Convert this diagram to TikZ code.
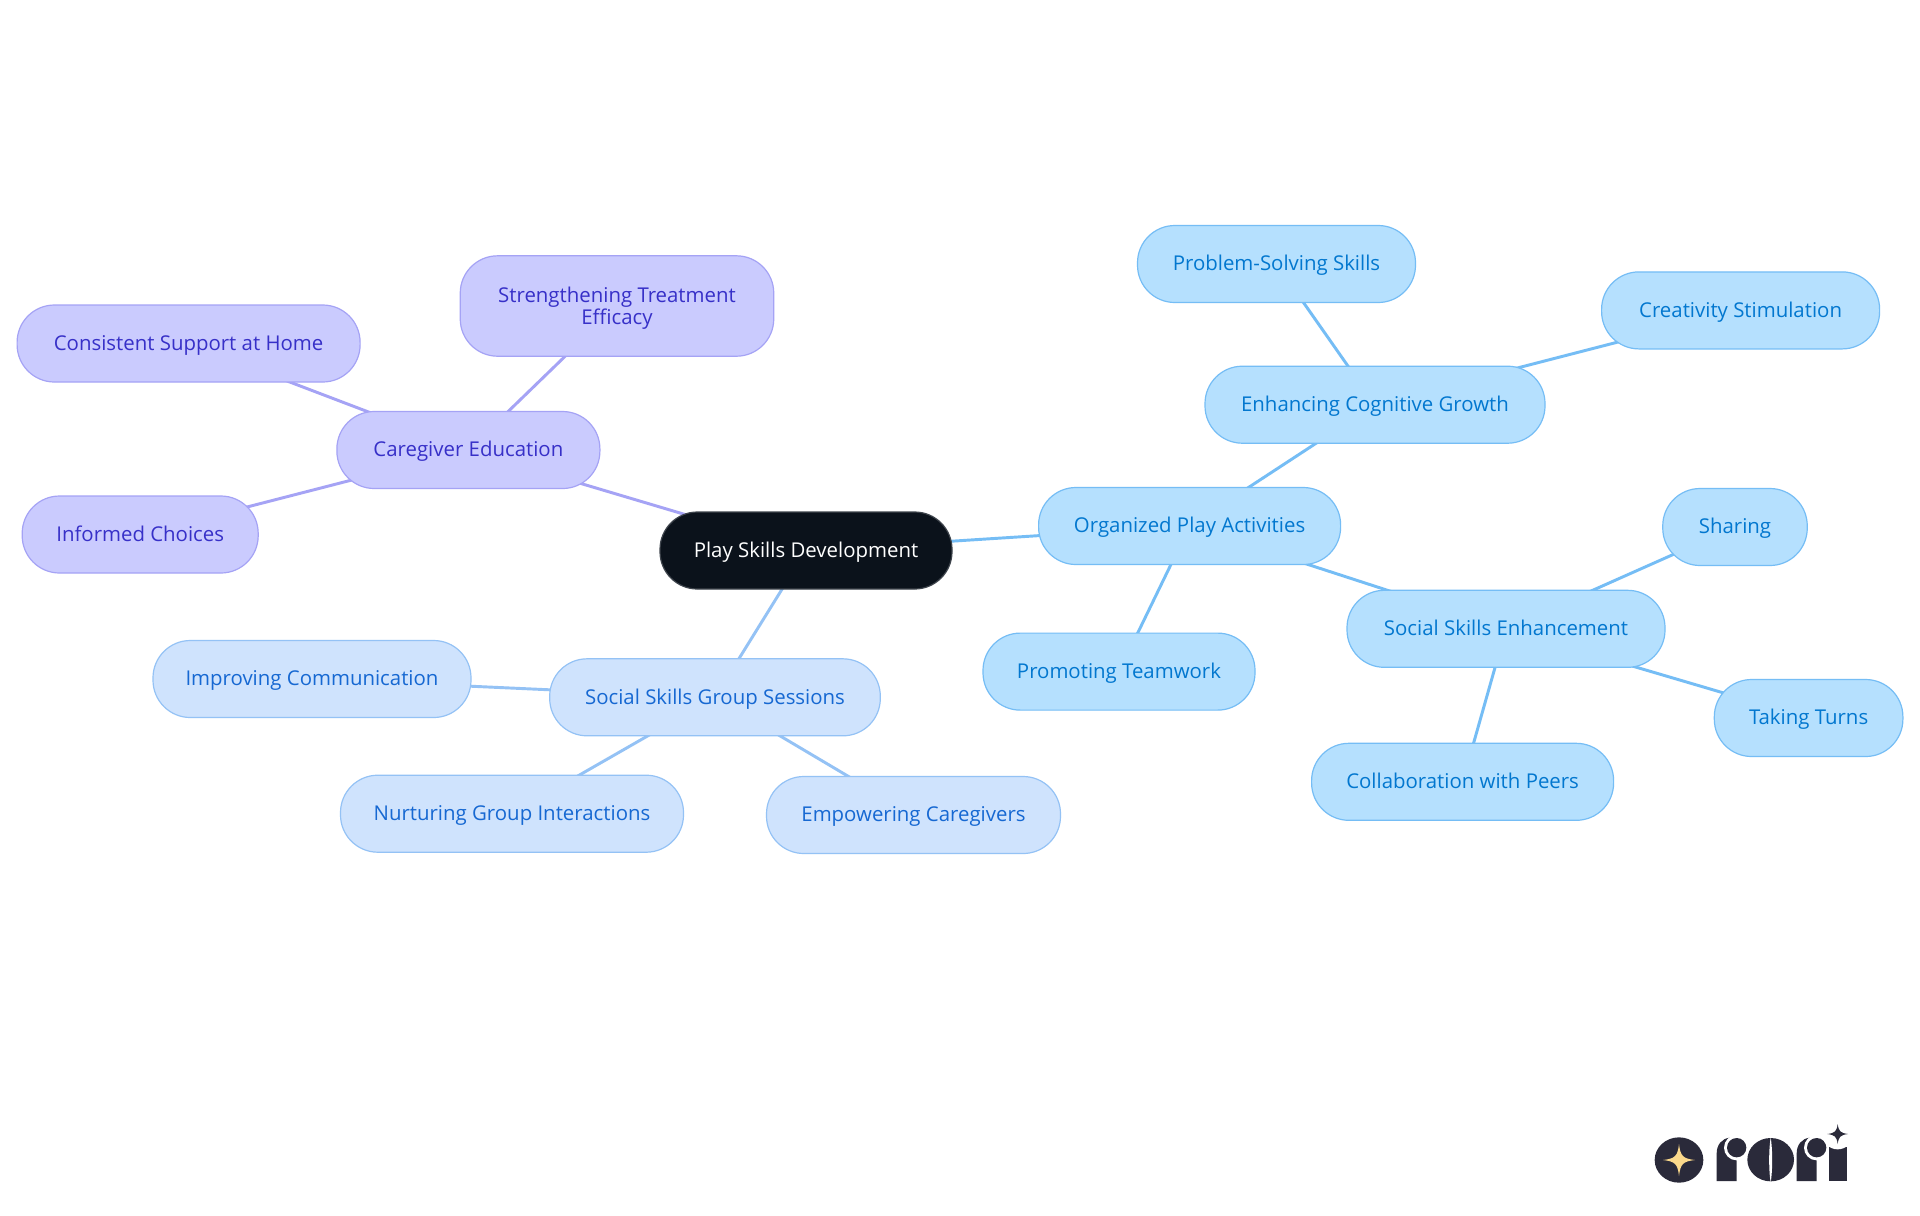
\documentclass[tikz,border=0pt]{standalone}
\usepackage{fontspec}
\setmainfont{Open Sans}
\usetikzlibrary{backgrounds}
\definecolor{purpF}{HTML}{CACBFE}\definecolor{purpS}{HTML}{A5A3F5}\definecolor{purpT}{HTML}{3730C8}
\definecolor{midF}{HTML}{CFE3FD}\definecolor{midS}{HTML}{94C2F5}\definecolor{midT}{HTML}{1668D2}
\definecolor{ltF}{HTML}{B5E0FE}\definecolor{ltS}{HTML}{75BDF5}\definecolor{ltT}{HTML}{0277CF}
\definecolor{rootF}{HTML}{0B121B}\definecolor{rootS}{HTML}{3E444C}
\definecolor{logoD}{HTML}{2A2A3A}\definecolor{logoY}{HTML}{FBD98B}
\tikzset{
 box/.style={rectangle,rounded corners=28pt,inner sep=0pt,line width=0.9pt,minimum height=57.75pt,align=center,text height=13.2pt,text depth=3pt,font=\fontsize{15.3}{17}\selectfont},
 wd/.style={minimum width=#1*0.75pt},
 purp/.style={box,draw=purpS,fill=purpF,text=purpT},
 mid/.style={box,draw=midS,fill=midF,text=midT},
 lt/.style={box,draw=ltS,fill=ltF,text=ltT},
 rootb/.style={box,draw=rootS,fill=rootF,text=white},
 epurp/.style={draw=purpS,line width=2.2pt},
 emid/.style={draw=midS,line width=2.2pt},
 elt/.style={draw=ltS,line width=2.2pt},
}
\begin{document}
\begin{tikzpicture}[x=0.75pt,y=-0.75pt]
\useasboundingbox (0,0) rectangle (1920,1215);
\node[rootb,wd=292] (root) at (806,550.5) {Play Skills Development};
\node[lt,wd=302] (opa) at (1189.6,526) {Organized Play Activities};
\node[lt,wd=340] (ecg) at (1375,404.7) {Enhancing Cognitive Growth};
\node[lt,wd=278] (pss) at (1276.5,264) {Problem-Solving Skills};
\node[lt,wd=278] (cs) at (1740.6,310.4) {Creativity Stimulation};
\node[lt,wd=318] (sse) at (1506,628.8) {Social Skills Enhancement};
\node[lt,wd=144.5] (sh) at (1735,527) {Sharing};
\node[lt,wd=188.6] (tt) at (1808.6,718) {Taking Turns};
\node[lt,wd=302] (cp) at (1462.6,781.8) {Collaboration with Peers};
\node[lt,wd=272] (pt) at (1119,671.6) {Promoting Teamwork};
\node[mid,wd=330.6] (ssg) at (715,697.3) {Social Skills Group Sessions};
\node[mid,wd=318] (ic) at (312,679) {Improving Communication};
\node[mid,wd=343] (ngi) at (512,813.7) {Nurturing Group Interactions};
\node[mid,wd=294] (ec) at (913.5,815) {Empowering Caregivers};
\node[purp,wd=263] (ce) at (468.4,450) {Caregiver Education};
\node[purp,wd=313.5,minimum height=75.3pt,text height=,text depth=] (ste) at (617,306) {\rule{0pt}{15pt}Strengthening Treatment\\Efficacy};
\node[purp,wd=343] (csh) at (188.6,343.5) {Consistent Support at Home};
\node[purp,wd=236] (ifc) at (140.2,534.5) {Informed Choices};
\begin{scope}[on background layer]
\fill[white] (0,0) rectangle (1920,1215);
\draw[epurp] (root.center)--(ce.center) (ce.center)--(ste.center) (ce.center)--(csh.center) (ce.center)--(ifc.center);
\draw[emid] (root.center)--(ssg.center) (ssg.center)--(ic.center) (ssg.center)--(ngi.center) (ssg.center)--(ec.center);
\draw[elt] (root.center)--(opa.center) (opa.center)--(ecg.center) (ecg.center)--(pss.center) (ecg.center)--(cs.center) (opa.center)--(sse.center) (sse.center)--(sh.center) (sse.center)--(tt.center) (sse.center)--(cp.center) (opa.center)--(pt.center);
\end{scope}
% logo
\begin{scope}[shift={(1620,1100)},x=0.25pt,y=-0.25pt]
\fill[logoD] (177,180) ellipse [x radius=73,y radius=68];
\fill[logoY] (177,132) .. controls (181,168) and (189,176) .. (225,180) .. controls (189,184) and (181,192) .. (177,228) .. controls (173,192) and (165,184) .. (129,180) .. controls (165,176) and (173,168) .. (177,132) -- cycle;
% first r
\fill[logoD] (290,243) -- (290,160) .. controls (290,135) and (305,115) .. (330,113) -- (350,113) -- (350,243) -- cycle;
\fill[white] (350,143) circle (38);
\fill[logoD] (350,143) circle (29);
% o
\fill[logoD] (452,179) ellipse [x radius=70,y radius=65];
\fill[white] (452,112) .. controls (458,150) and (458,210) .. (452,248) .. controls (446,210) and (446,150) .. (452,112) -- cycle;
% second r
\fill[logoD] (530,243) -- (530,160) .. controls (530,135) and (545,115) .. (570,113) -- (590,113) -- (590,243) -- cycle;
\fill[white] (590,143) circle (38);
\fill[logoD] (590,143) circle (29);
% i
\fill[logoD] (627,243) -- (627,140) -- (680,140) -- (680,243) -- cycle;
\fill[white] (653,102) circle (46);
\fill[logoD] (653,72) .. controls (656,94) and (661,99) .. (684,102) .. controls (661,105) and (656,110) .. (653,132) .. controls (650,110) and (645,105) .. (622,102) .. controls (645,99) and (650,94) .. (653,72) -- cycle;
\end{scope}
\end{tikzpicture}
\end{document}
